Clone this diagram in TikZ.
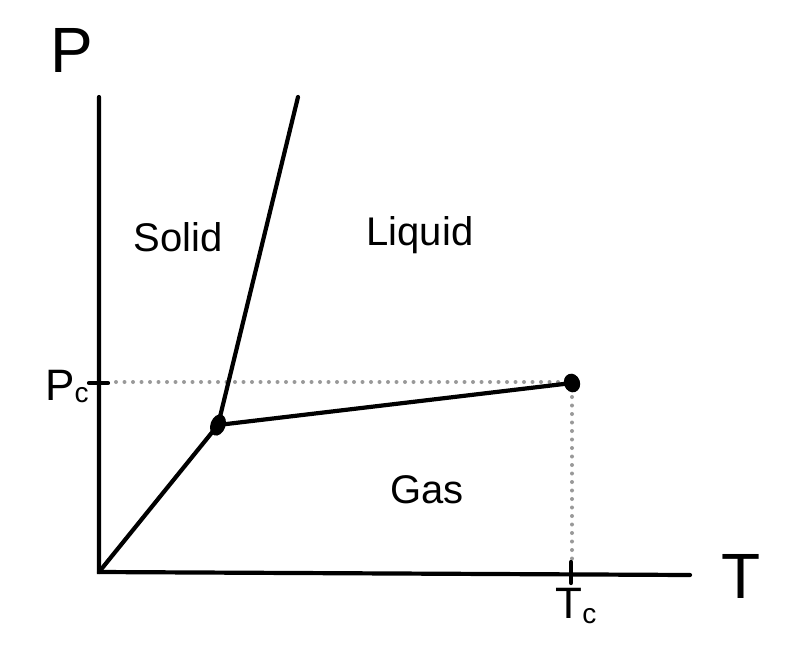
\documentclass[tikz,border=0pt]{standalone}
\usepackage{fontspec}
\setmainfont{Liberation Sans}
\begin{document}
\begin{tikzpicture}[x=1pt,y=-1pt,
  curve/.style={line width=4.2pt,line cap=round},
  guide/.style={black!40,line width=4pt,dash pattern=on 0pt off 8.5pt,line cap=round},
  lbl/.style={font=\fontsize{40}{42}\selectfont,inner sep=0pt},
  axlbl/.style={font=\fontsize{64}{66}\selectfont,inner sep=0pt},
  sublbl/.style={font=\fontsize{44}{46}\selectfont,inner sep=0pt}]
\useasboundingbox (0,0) rectangle (794,654);
\coordinate (O) at (99,572);
\coordinate (Ptop) at (99,97);
\coordinate (Tend) at (690,575);
\coordinate (TP) at (218,425);
\coordinate (CP) at (572,383);
\coordinate (Mtop) at (298,97);
\coordinate (PcL) at (89,383);
\coordinate (PcR) at (108,383);
\coordinate (TcT) at (571,562);
\coordinate (TcB) at (571,583);
\coordinate (PcG) at (116,382);
\coordinate (CPG) at (560,382);
\coordinate (CPV) at (572,397);
\coordinate (TcV) at (572,560);
% guides
\draw[guide] (PcG) -- (CPG);
\draw[guide] (CPV) -- (TcV);
% axes
\draw[curve] (Ptop) -- (O) -- (Tend);
\draw[curve] (PcL) -- (PcR);
\draw[curve] (TcT) -- (TcB);
% phase lines
\draw[curve] (O) -- (TP) -- (Mtop);
\draw[curve] (TP) -- (CP);
% points
\fill[rotate around={-20:(TP)}] (TP) ellipse (7.5pt and 11pt);
\fill[rotate around={20:(CP)}] (CP) ellipse (8pt and 9.5pt);
% labels
\node[axlbl] (P) at (72,50) {P};
\node[axlbl] (T) at (741,576) {T};
\node[sublbl,anchor=base] (Pc) at (67,400) {P\raisebox{-0.1ex}{\fontsize{28}{30}\selectfont c}};
\node[sublbl,anchor=base] (Tc) at (576,618) {T\raisebox{-0.25ex}{\fontsize{28}{30}\selectfont c}};
\node[lbl] (solid) at (178,237) {Solid};
\node[lbl] (liquid) at (420,235) {Liquid};
\node[lbl] (gas) at (427,490) {Gas};
\end{tikzpicture}
\end{document}
